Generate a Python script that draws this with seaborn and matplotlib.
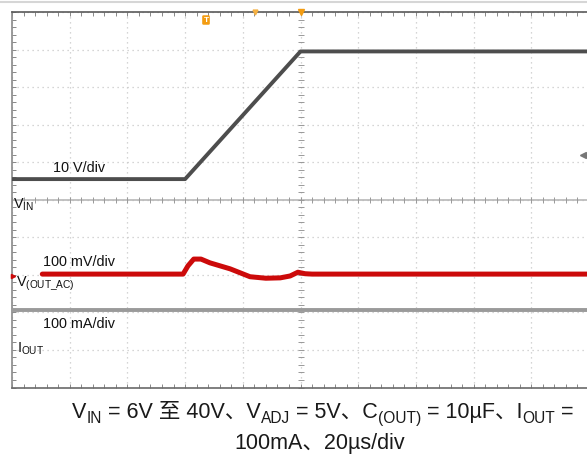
import numpy as np
import pandas as pd
import matplotlib
matplotlib.use("Agg")
import matplotlib.pyplot as plt
import seaborn as sns
from matplotlib.lines import Line2D

# ---------------- data ----------------
# time axis: 20 us/div, 10 divisions
t_vin = [0, 60, 100, 200]            # us
v_vin = [6, 6, 40, 40]               # V   (10 V/div)
vin_offset_div = -0.05

t_vout = [10.5, 59.3, 61.0, 63.0, 65.5, 68.6, 75.6, 82.5, 88.0, 93.0, 96.4, 99.1, 101.6, 104.0, 200]
v_vout = [0, 0, 22, 40, 40, 30, 14, -7, -11, -10, -5, 5, 1, 0, 0]   # mV (100 mV/div, AC)
vout_offset_div = -1.98

t_iout = [0, 200]
i_iout = [100, 100]                  # mA (100 mA/div)
iout_offset_div = -3.93

V_PER_DIV, MV_PER_DIV, MA_PER_DIV = 10, 100, 100

caption1 = [("V", 0), ("IN", 1), (" = 6V 至 40V、V", 0), ("ADJ", 1), (" = 5V、C", 0),
            ("(OUT)", 1), (" = 10µF、I", 0), ("OUT", 1), (" =", 0)]
caption2 = [("100mA、20µs/div", 0)]

# ---------------- figure ----------------
sns.set_theme(style="white")
FAM = ["Liberation Sans", "Noto Sans CJK SC", "DejaVu Sans"]
plt.rcParams["font.family"] = FAM
plt.rcParams["mathtext.fontset"] = "custom"
plt.rcParams["mathtext.rm"] = "Liberation Sans"

W, H = 587, 462
fig = plt.figure(figsize=(W / 100, H / 100), dpi=100)
fig.patch.set_facecolor("white")
ax = fig.add_axes([12 / W, (H - 387.5) / H, 577 / W, 375.5 / H])
ax.set_facecolor("white")

df_vin = pd.DataFrame({"t": t_vin, "div": np.array(v_vin) / V_PER_DIV + vin_offset_div})
df_vout = pd.DataFrame({"t": t_vout, "div": np.array(v_vout) / MV_PER_DIV + vout_offset_div})
df_iout = pd.DataFrame({"t": t_iout, "div": np.array(i_iout) / MA_PER_DIV + iout_offset_div})

ax.set_xlim(0, 200)
ax.set_ylim(-5, 5)
ax.set_xticks(np.arange(0, 201, 20))
ax.set_yticks(np.arange(-5, 6, 1))
ax.set_xticks(np.arange(0, 201, 4), minor=True)
ax.set_yticks(np.arange(-5, 5.01, 0.2), minor=True)
ax.set_xticklabels([])
ax.set_yticklabels([])
ax.grid(True, which="major", color="#c8c8c8", linestyle=(0, (1, 3)), linewidth=0.9)
ax.tick_params(which="both", direction="in", length=3, width=0.7, color="#888888",
               top=True, bottom=True, left=True, right=False)
for side, col in [("left", "#8a8a8a"), ("top", "#5a5a5a"), ("bottom", "#6a6a6a")]:
    ax.spines[side].set_color(col)
    ax.spines[side].set_linewidth(1.2)
ax.spines["right"].set_visible(False)

# centre lines with small ticks
ax.axhline(0, color="#b8b8b8", lw=1.2, zorder=1)
ax.plot(np.arange(0, 201, 4), np.zeros(51), ls="none", marker="|", ms=4, mew=0.7, color="#999999", zorder=1)
ax.plot(np.full(51, 100.0), np.arange(-5, 5.01, 0.2), ls="none", marker="_", ms=4, mew=0.7, color="#999999", zorder=1)

# traces
sns.lineplot(data=df_iout, x="t", y="div", ax=ax, color="#9a9a9a", lw=2.8, estimator=None, sort=False, zorder=3)
sns.lineplot(data=df_vout, x="t", y="div", ax=ax, color="#cc0a0a", lw=3.6, estimator=None, sort=False, zorder=4)
sns.lineplot(data=df_vin, x="t", y="div", ax=ax, color="#4d4d4d", lw=2.8, estimator=None, sort=False, zorder=4)
ax.set_xlabel("")
ax.set_ylabel("")

# scope markers
ax.plot([100], [5], marker="v", color="#f39c12", ms=5, clip_on=False, zorder=6)
ax.plot([84.2], [5], marker="v", color="#f5b041", ms=3.5, clip_on=False, zorder=6)
ax.plot([197.9], [1.2], marker="<", color="#777777", ms=4, clip_on=False, zorder=6)
ax.plot([0.3], [-2.02], marker=">", color="#cc0a0a", ms=3, clip_on=False, zorder=6)
fig.text(206 / W, 1 - 20 / H, "T", fontsize=6, color="white", ha="center", va="center",
         fontweight="bold",
         bbox=dict(boxstyle="round,pad=0.15", fc="#f39c12", ec="none"))

# top faint line of the screenshot
fig.add_artist(Line2D([0, 1], [1 - 1.5 / H, 1 - 1.5 / H], transform=fig.transFigure,
                      color="#d6d6d6", lw=1.5))

# in-plot labels (pixel positions -> figure coords, baseline)
LFS = 10.4
def ftxt(x, y, s, fs=LFS, **kw):
    return fig.text(x / W, 1 - y / H, s, fontsize=fs, ha="left", va="baseline",
                    color="#111111", family=["Liberation Sans"], **kw)

ftxt(53, 172, "10 V/div")
ftxt(13, 209, r"V$_\mathregular{IN}$")
ftxt(43, 266, "100 mV/div")
ftxt(16, 287, r"V$_\mathregular{(OUT\_AC)}$")
ftxt(43, 328, "100 mA/div")
ftxt(17, 353, r"I$_\mathregular{OUT}$")

# caption with manual subscript runs (keeps CJK fallback working)
fig.canvas.draw()
R = fig.canvas.get_renderer()
CFS = 15.5

def adv(s, fs):
    a = fig.text(0, 0, "|" + s + "|", fontsize=fs, family=FAM)
    b = fig.text(0, 0, "||", fontsize=fs, family=FAM)
    w = a.get_window_extent(R).width - b.get_window_extent(R).width
    a.remove(); b.remove()
    return w

def caption(runs, cx, base_y):
    sizes = [CFS * (0.72 if sub else 1.0) for _, sub in runs]
    widths = [adv(s, fs) for (s, _), fs in zip(runs, sizes)]
    x = cx - sum(widths) / 2
    for (s, sub), fs, w in zip(runs, sizes, widths):
        y = base_y + (5 if sub else 0)
        fig.text(x / W, 1 - y / H, s, fontsize=fs, family=FAM, ha="left",
                 va="baseline", color="#1a1a1a")
        x += w

caption(caption1, 323, 418)
caption(caption2, 320, 449)

fig.savefig("out.png", dpi=100)
